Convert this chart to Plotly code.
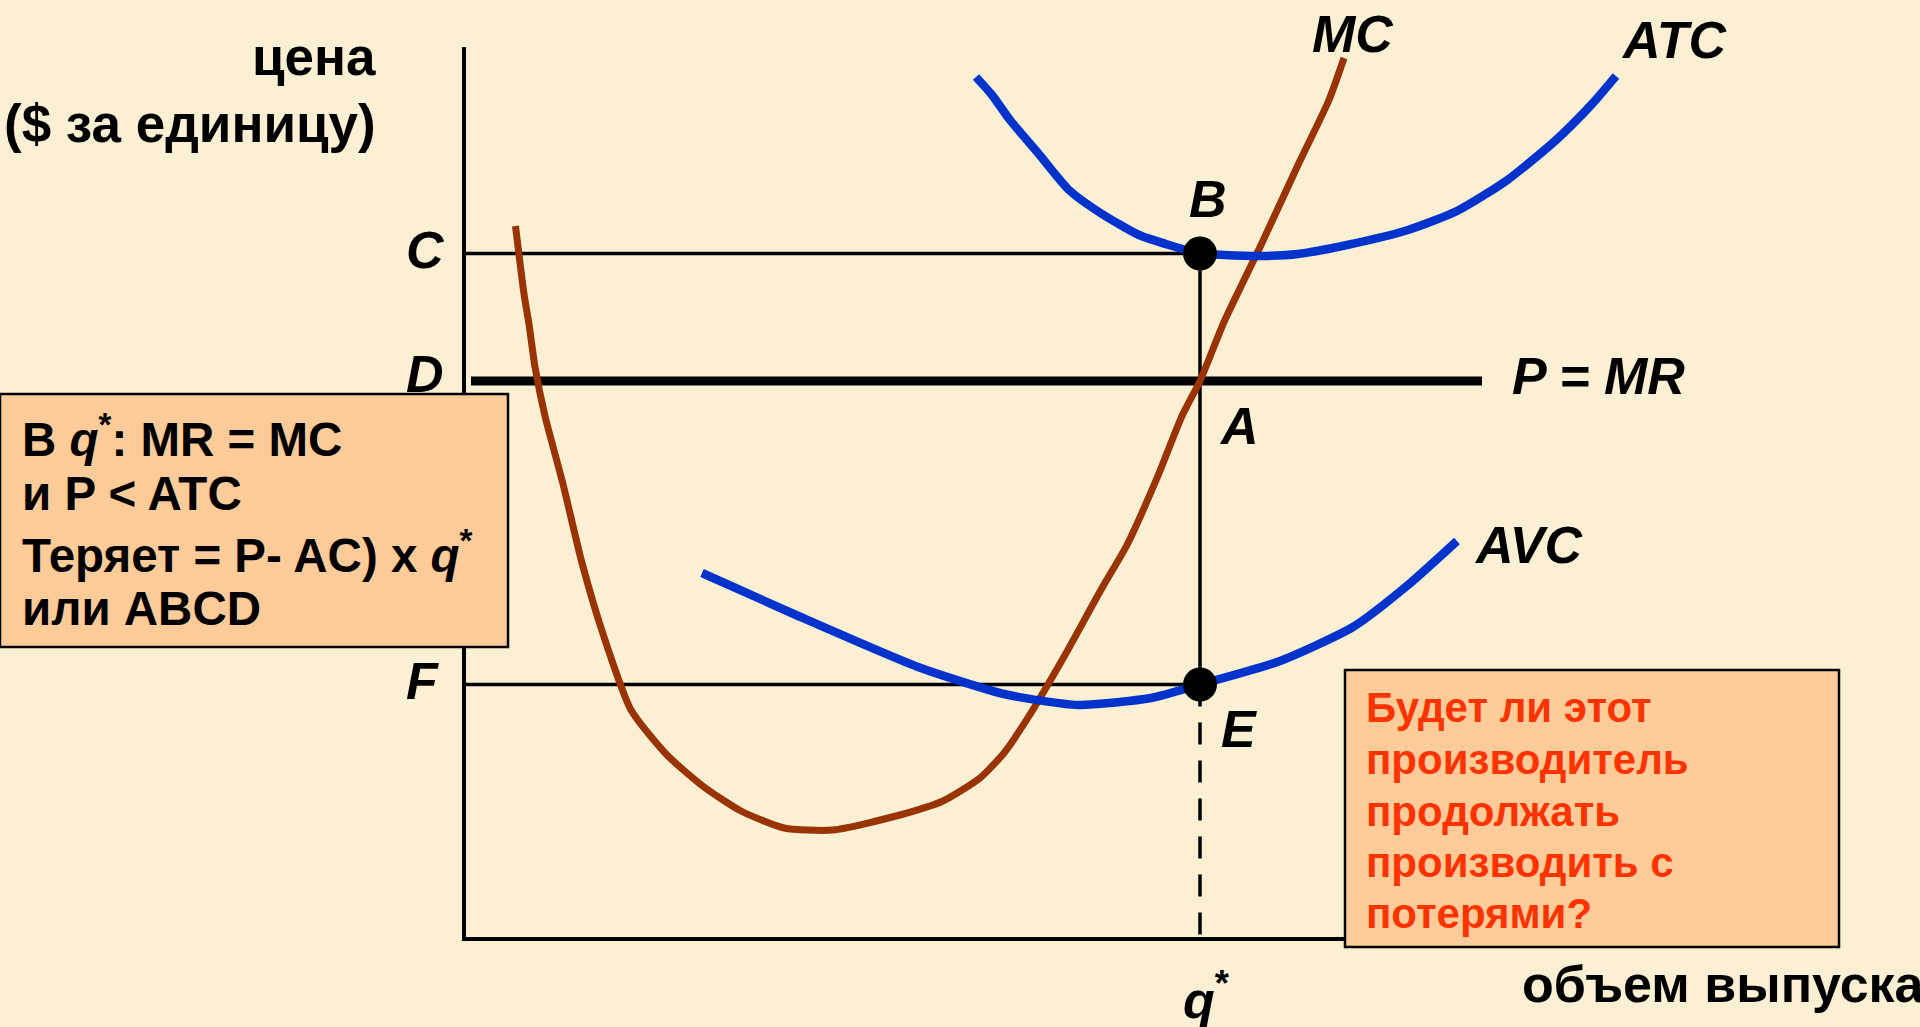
import plotly.graph_objects as go

# ---- data (quantity, price) in chart units ----
mc_q = [5.15, 6.0, 6.5, 7.1, 8.1, 9.9, 11.8, 14.0, 16.7, 20.3, 24.0, 27.7, 32.0, 36.9, 43.6, 47.9,
        51.6, 54.0, 56.5, 60.1, 63.8, 66.3, 69.3, 71.8, 73.6, 76.0, 79.7, 83.4, 86.5, 88.0]
mc_p = [71.3, 64.5, 61.5, 57.2, 52.3, 45.5, 37.6, 30.2, 22.9, 18.4, 15.2, 12.8, 11.1, 10.9, 12.4, 13.8,
        16.1, 18.6, 22.3, 28.4, 35.1, 39.4, 46.1, 52.3, 55.8, 61.7, 69.4, 77.4, 83.9, 88.1]

atc_q = [51.2, 52.8, 54.6, 57.4, 60.5, 63.8, 67.5, 70.5, 73.6, 76.0, 79.7, 83.4, 88.3, 94.4,
         99.3, 104.2, 109.1, 112.8, 115.2]
atc_p = [86.2, 84.4, 81.9, 78.6, 74.9, 72.5, 70.4, 69.4, 68.55, 68.4, 68.3, 68.5, 69.4, 70.9,
         72.8, 75.8, 79.8, 83.5, 86.3]

avc_q = [23.8, 33.2, 45.4, 54.0, 61.4, 68.7, 73.6, 81.6, 88.9, 94.4, 99.3]
avc_p = [36.6, 32.4, 27.2, 24.5, 23.4, 24.1, 25.45, 27.8, 31.2, 35.4, 39.8]

q_star = 73.6
price_C = 68.55   # ATC at q*
price_D = 55.8    # P = MR
price_F = 25.45   # AVC at q*
mr_q = [0.7, 101.8]
y_top = 89.2
x_end = 90.0

# ---- pixel mapping helpers for layout placement ----
W, H = 1920, 1027
X0, Y0, SC = 464.0, 939.0, 10.0
def px2x(px):
    return px / W
def py2y(py):
    return 1 - py / H

BG = "#FBF0D4"
BROWN = "#993300"
BLUE = "#0033CC"
FONT = "Liberation Sans, Arial, sans-serif"

fig = go.Figure()

# axes
fig.add_trace(go.Scatter(x=[0, 0, x_end], y=[y_top, 0, 0], mode="lines",
                         line=dict(color="black", width=4), hoverinfo="skip"))
# C and F levels
fig.add_trace(go.Scatter(x=[0, q_star], y=[price_C, price_C], mode="lines",
                         line=dict(color="black", width=3.5), hoverinfo="skip"))
fig.add_trace(go.Scatter(x=[0, q_star], y=[price_F, price_F], mode="lines",
                         line=dict(color="black", width=3.5), hoverinfo="skip"))
# vertical at q*
fig.add_trace(go.Scatter(x=[q_star, q_star], y=[price_C, price_F], mode="lines",
                         line=dict(color="black", width=3.5), hoverinfo="skip"))
fig.add_trace(go.Scatter(x=[q_star, q_star], y=[price_F, -0.8], mode="lines",
                         line=dict(color="black", width=3.5, dash="22px,16px"), hoverinfo="skip"))
# P = MR
fig.add_trace(go.Scatter(x=mr_q, y=[price_D, price_D], mode="lines",
                         line=dict(color="black", width=9), hoverinfo="skip"))
# curves
fig.add_trace(go.Scatter(x=mc_q, y=mc_p, mode="lines",
                         line=dict(color=BROWN, width=7, shape="spline", smoothing=0.6), hoverinfo="skip"))
fig.add_trace(go.Scatter(x=atc_q, y=atc_p, mode="lines",
                         line=dict(color=BLUE, width=8.5, shape="spline", smoothing=0.6), hoverinfo="skip"))
fig.add_trace(go.Scatter(x=avc_q, y=avc_p, mode="lines",
                         line=dict(color=BLUE, width=8.5, shape="spline", smoothing=0.6), hoverinfo="skip"))
# points B and E
fig.add_trace(go.Scatter(x=[q_star, q_star], y=[price_C, price_F], mode="markers",
                         marker=dict(color="black", size=34), hoverinfo="skip"))

shapes = [
    dict(type="rect", xref="paper", yref="paper", x0=px2x(0), x1=px2x(508), y0=py2y(394), y1=py2y(647),
         fillcolor="#FFCC99", line=dict(color="black", width=2.5), layer="above"),
    dict(type="rect", xref="paper", yref="paper", x0=px2x(1345), x1=px2x(1839), y0=py2y(670), y1=py2y(947),
         fillcolor="#FFCC99", line=dict(color="black", width=2.5), layer="above"),
]

ann = []
def label(text, px, py, size=52, xanchor="center", color="black"):
    ann.append(dict(text=text, x=px2x(px), y=py2y(py), xref="paper", yref="paper",
                    xanchor=xanchor, yanchor="middle", showarrow=False,
                    font=dict(family=FONT, size=size, color=color)))

label("<b>цена</b>", 378, 57, 53, xanchor="right")
label("<b>($ за единицу)</b>", 378, 124, 53, xanchor="right")
label("<b><i>C</i></b>", 425, 250)
label("<b><i>D</i></b>", 425, 374)
label("<b><i>F</i></b>", 422, 681)
label("<b><i>B</i></b>", 1208, 199)
label("<b><i>A</i></b>", 1239, 426)
label("<b><i>E</i></b>", 1239, 729)
label("<b><i>MC</i></b>", 1353, 34)
label("<b><i>ATC</i></b>", 1674, 40)
label("<b><i>P = MR</i></b>", 1598, 376)
label("<b><i>AVC</i></b>", 1528, 545)
label("<b><i>q</i><sup>*</sup></b>", 1206, 996)
label("<b>объем выпуска</b>", 1520, 984, 52, xanchor="left")

left_lines = ["<b>В <i>q</i><sup>*</sup>: MR = MC</b>", "<b>и P &lt; ATC</b>",
              "<b>Теряет = P- AC) x <i>q</i><sup>*</sup></b>", "<b>или ABCD</b>"]
for t, yy in zip(left_lines, [436, 493, 552, 608]):
    label(t, 20, yy, 47.5, xanchor="left")

right_lines = ["Будет ли этот", "производитель", "продолжать", "производить с", "потерями?"]
for t, yy in zip(right_lines, [707, 759, 811, 862, 913]):
    label("<b>" + t + "</b>", 1364, yy, 42, xanchor="left", color="#FF3300")

fig.update_layout(
    width=W, height=H, margin=dict(l=0, r=0, t=0, b=0),
    paper_bgcolor=BG, plot_bgcolor=BG, showlegend=False,
    xaxis=dict(range=[(0 - X0) / SC, (W - X0) / SC], visible=False, fixedrange=True),
    yaxis=dict(range=[(Y0 - H) / SC, Y0 / SC], visible=False, fixedrange=True),
    shapes=shapes, annotations=ann,
)

fig.write_html("out.html", config={"displayModeBar": False},
               post_script="document.body.style.margin='0';document.body.style.overflow='hidden';")
